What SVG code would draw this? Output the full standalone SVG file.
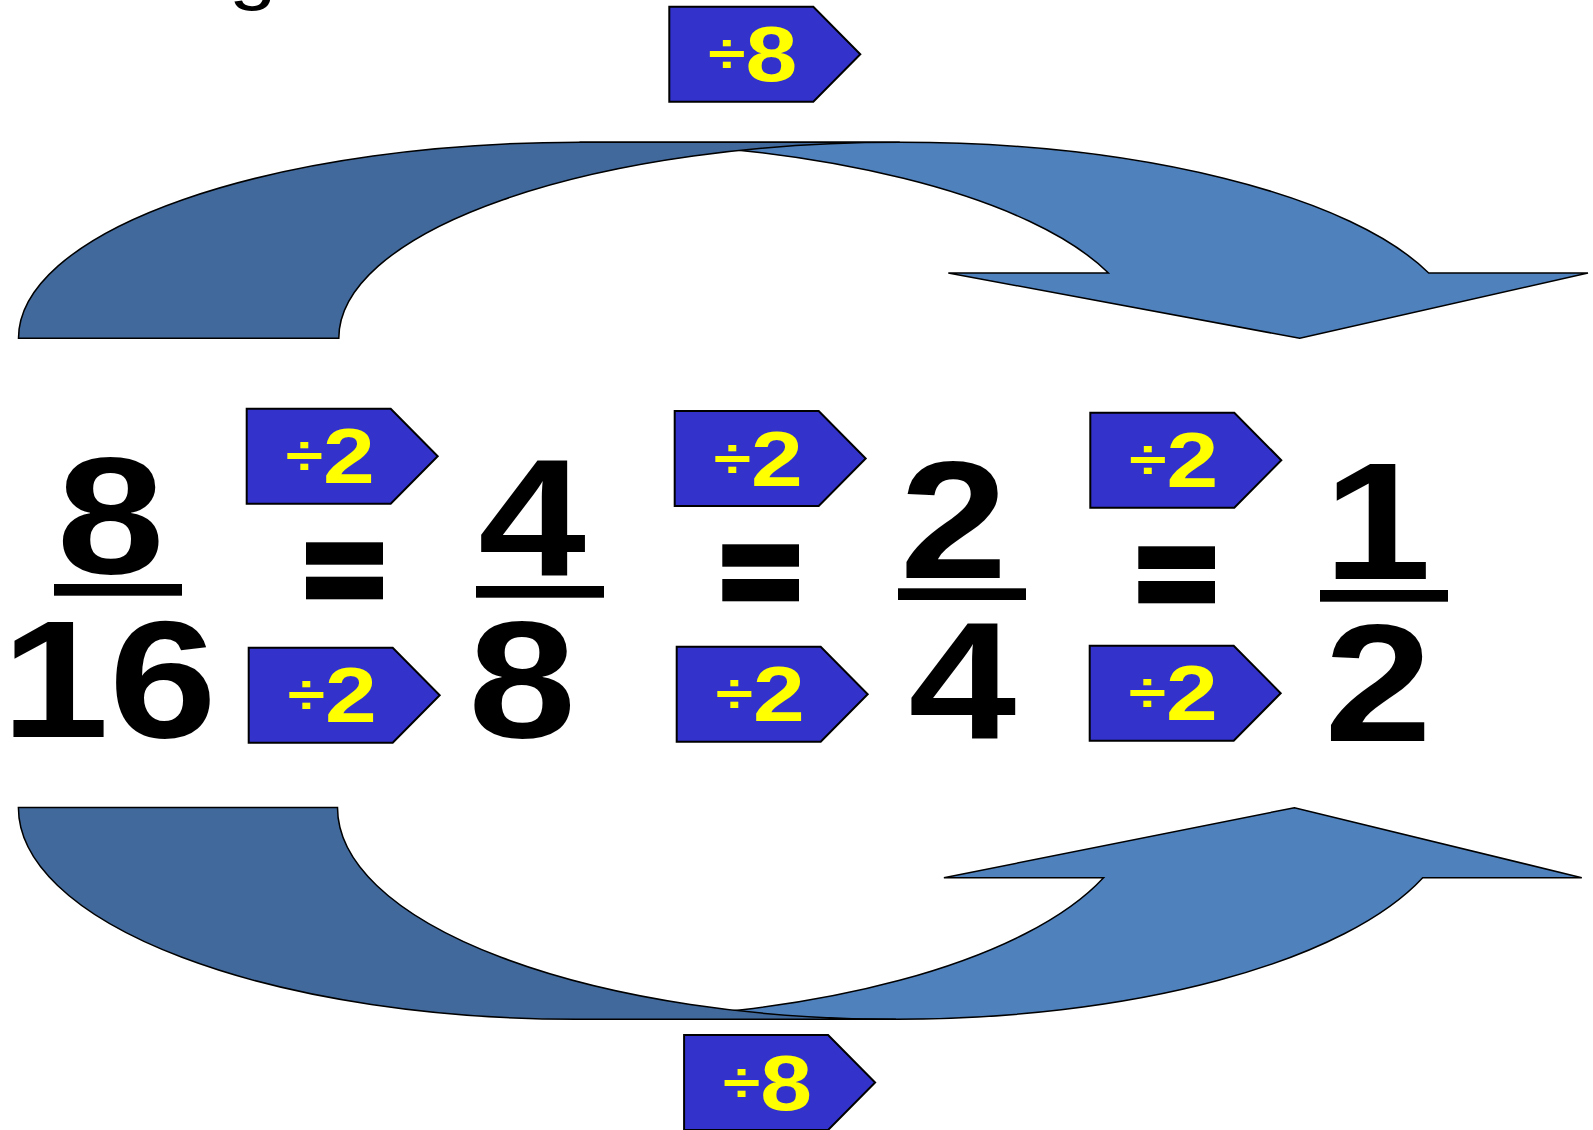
<svg xmlns="http://www.w3.org/2000/svg" width="1593" height="1130" viewBox="0 0 1593 1130">
<style>
.dig{font-family:"Liberation Sans",Arial,sans-serif;font-weight:700;font-size:167px;fill:#000;text-anchor:middle}
.lbl{font-family:"Liberation Sans",Arial,sans-serif;font-weight:700;fill:#FFFF00}
.op{font-size:56px}
.n{font-size:77px}
.tag{fill:#3333CC;stroke:#000;stroke-width:2;stroke-linejoin:miter}
.bar{fill:#000}
.arrL{fill:#4F81BD;stroke:#000;stroke-width:1.5;stroke-linejoin:miter}
.arrD{fill:#41699B;stroke:#000;stroke-width:1.5;stroke-linejoin:miter}
</style>
<defs>
<path id="pent" d="M0 0H144L191 47.5L144 95H0Z"/>
</defs>
<rect width="1593" height="1130" fill="#fff"/>
<text transform="translate(229,-4) scale(1.22,1)" font-family="Liberation Sans, Arial, sans-serif" font-size="70" fill="#000">g</text>

<g id="connectors">
  <g id="arrow-top">
    <path class="arrL" d="M1299.8 338.3L948.3 273L1108.4 273A561 196 0 0 0 579.5 142.3L899.8 142.3A561 196 0 0 1 1428.7 273L1588 273Z"/>
    <path class="arrD" d="M18.5 338.3A561 196 0 0 1 579.5 142.3L899.8 142.3A561 196 0 0 0 338.8 338.3Z"/>
  </g>
  <g id="arrow-bottom">
    <path class="arrL" d="M1294.5 807.7L943.9 877.7L1103.6 877.7A558.4 211.8 0 0 1 576.8 1019.3L895.9 1019.3A558.4 211.8 0 0 0 1422.7 877.7L1581.8 877.7Z"/>
    <path class="arrD" d="M18.4 807.5A558.4 211.8 0 0 0 576.8 1019.3L895.9 1019.3A558.4 211.8 0 0 1 337.5 807.5Z"/>
  </g>
</g>

<g id="div8-top" transform="translate(669.3,6.7)">
  <use href="#pent" class="tag"/>
  <text class="lbl" transform="translate(39,74.5) scale(1.21,1)"><tspan class="op" dy="-8">÷</tspan><tspan class="n" dy="8">8</tspan></text>
</g>
<g id="div8-bottom" transform="translate(684.1,1035)">
  <use href="#pent" class="tag"/>
  <text class="lbl" transform="translate(39,74.5) scale(1.21,1)"><tspan class="op" dy="-8">÷</tspan><tspan class="n" dy="8">8</tspan></text>
</g>

<g id="frac-8-16">
  <text class="dig" transform="translate(110.5,573.3) scale(1.16,1)">8</text>
  <rect class="bar" x="54" y="584" width="128" height="11.7"/>
  <text class="dig" transform="translate(109,736.7) scale(1.16,1)">16</text>
</g>
<g id="eq-1"><rect class="bar" x="306" y="542.3" width="77" height="22.4"/><rect class="bar" x="306" y="576.7" width="77" height="22.6"/></g>
<g id="div2-top-1" transform="translate(246.7,408.7)">
  <use href="#pent" class="tag"/>
  <text class="lbl" transform="translate(39,74.5) scale(1.21,1)"><tspan class="op" dy="-8">÷</tspan><tspan class="n" dy="8">2</tspan></text>
</g>
<g id="div2-bottom-1" transform="translate(248.7,647.7)">
  <use href="#pent" class="tag"/>
  <text class="lbl" transform="translate(39,74.5) scale(1.21,1)"><tspan class="op" dy="-8">÷</tspan><tspan class="n" dy="8">2</tspan></text>
</g>

<g id="frac-4-8">
  <text class="dig" transform="translate(532,575.3) scale(1.16,1)">4</text>
  <rect class="bar" x="476" y="586" width="128" height="11.7"/>
  <text class="dig" transform="translate(522.2,736.5) scale(1.16,1)">8</text>
</g>
<g id="eq-2"><rect class="bar" x="722.3" y="544.3" width="76.7" height="22.4"/><rect class="bar" x="722.3" y="579" width="76.7" height="22.3"/></g>
<g id="div2-top-2" transform="translate(674.7,411)">
  <use href="#pent" class="tag"/>
  <text class="lbl" transform="translate(39,74.5) scale(1.21,1)"><tspan class="op" dy="-8">÷</tspan><tspan class="n" dy="8">2</tspan></text>
</g>
<g id="div2-bottom-2" transform="translate(676.7,646.7)">
  <use href="#pent" class="tag"/>
  <text class="lbl" transform="translate(39,74.5) scale(1.21,1)"><tspan class="op" dy="-8">÷</tspan><tspan class="n" dy="8">2</tspan></text>
</g>

<g id="frac-2-4">
  <text class="dig" transform="translate(953.5,577.7) scale(1.16,1)">2</text>
  <rect class="bar" x="898" y="588.3" width="128" height="11.7"/>
  <text class="dig" transform="translate(962.3,738.3) scale(1.16,1)">4</text>
</g>
<g id="eq-3"><rect class="bar" x="1138.3" y="546.3" width="76.7" height="22.7"/><rect class="bar" x="1138.3" y="581" width="76.7" height="22.3"/></g>
<g id="div2-top-3" transform="translate(1090.3,412.7)">
  <use href="#pent" class="tag"/>
  <text class="lbl" transform="translate(39,74.5) scale(1.21,1)"><tspan class="op" dy="-8">÷</tspan><tspan class="n" dy="8">2</tspan></text>
</g>
<g id="div2-bottom-3" transform="translate(1089.7,645.7)">
  <use href="#pent" class="tag"/>
  <text class="lbl" transform="translate(39,74.5) scale(1.21,1)"><tspan class="op" dy="-8">÷</tspan><tspan class="n" dy="8">2</tspan></text>
</g>

<g id="frac-1-2">
  <text class="dig" transform="translate(1377.3,579.3) scale(1.16,1)">1</text>
  <rect class="bar" x="1320" y="590" width="128" height="11.7"/>
  <text class="dig" transform="translate(1378,740.7) scale(1.16,1)">2</text>
</g>
</svg>
